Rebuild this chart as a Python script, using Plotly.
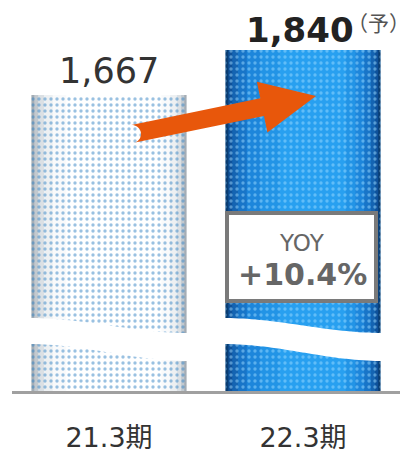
import numpy as np
import plotly.graph_objects as go

# ---- data ----
categories = ["21.3期", "22.3期"]
values = [1667, 1840]
forecast_flags = [False, True]
yoy_label = "YOY"

yoy = (values[1] / values[0] - 1) * 100

# ---- layout geometry ----
W, H = 412, 457
ML, MR, MT, MB = 12, 12, 0, 66
PW, PH = W - ML - MR, H - MT - MB
XMIN, XMAX = -0.5, 1.5
YMIN, YMAX = 529, 2032
BARW = 0.8


def dx(px):
    return XMIN + (px - ML) / PW * (XMAX - XMIN)


def dy(py):
    return YMAX - (py - MT) / PH * (YMAX - YMIN)


def path_from(points):
    s = "M " + " L ".join(f"{dx(x):.5f},{dy(y):.3f}" for x, y in points) + " Z"
    return s


xs = list(range(len(categories)))
fig = go.Figure()

# cylinder shading layers: (left inset, right inset, colour bar1, colour bar2)
layers = [
    (0.000, 0.000, "#a4adb5", "#0a3d72"),
    (0.015, 0.012, "#c2c9cf", "#0e519a"),
    (0.035, 0.028, "#dbe0e4", "#1464b2"),
    (0.065, 0.050, "#edf0f2", "#1875c8"),
    (0.110, 0.085, "#f9fafb", "#1d86db"),
    (0.180, 0.130, "#ffffff", "#2294e6"),
    (0.280, 0.180, "#ffffff", "#28a0f0"),
]
for a, b, c1, c2 in layers:
    fig.add_trace(go.Bar(
        x=xs, y=values, base=0,
        width=BARW - a - b, offset=-BARW / 2 + a,
        marker=dict(color=[c1, c2], line=dict(width=0)),
        hoverinfo="skip", showlegend=False,
    ))

# dotted texture
fig.add_trace(go.Bar(
    x=xs, y=values, base=0, width=BARW, offset=-BARW / 2,
    marker=dict(
        color="rgba(0,0,0,0)", line=dict(width=0),
        pattern=dict(shape=".", fgcolor=["#3583c4", "#9ad9ff"],
                     bgcolor="rgba(0,0,0,0)", size=6, solidity=0.25,
                     fillmode="overlay"),
    ),
    hoverinfo="skip", showlegend=False,
))

shapes = []
# wave break bands
for i in xs:
    left = ML + (i - XMIN - BARW / 2) / (XMAX - XMIN) * PW - 3
    right = left + BARW / (XMAX - XMIN) * PW + 6
    t = np.linspace(0, 1, 40)
    px = left + (right - left) * t
    up = 325.5 - 7.5 * np.cos(np.pi * t)
    lo = 352.5 - 8.5 * np.cos(np.pi * t)
    pts = list(zip(px, up)) + list(zip(px[::-1], lo[::-1]))
    shapes.append(dict(type="path", path=path_from(pts), xref="x", yref="y",
                       fillcolor="white", line=dict(width=0), layer="above"))

# arrow
T = np.array([132.0, 134.0])
P = np.array([316.0, 96.0])
d = P - T
L = np.linalg.norm(d)
u = d / L
n = np.array([-u[1], u[0]])
hw, headw, headl = 9.0, 26.0, 55.0
B = T + u * (L - headl)
pts = [T + n * hw, B + n * hw, B + n * headw, P, B - n * headw, B - n * hw, T - n * hw]
ang0 = np.arctan2(-n[1], -n[0])
for th in np.linspace(0, np.pi, 20):
    ang = ang0 + th
    pts.append(T + hw * np.array([np.cos(ang), np.sin(ang)]))
shapes.append(dict(type="path", path=path_from([tuple(p) for p in pts]), xref="x", yref="y",
                   fillcolor="#e8570b", line=dict(width=0), layer="above"))

# YOY box
shapes.append(dict(type="rect", xref="x", yref="y",
                   x0=dx(227), x1=dx(376), y0=dy(301), y1=dy(213),
                   fillcolor="white", line=dict(color="#7a7a7a", width=4), layer="above"))

annotations = []
# value labels
for i, (v, fc) in enumerate(zip(values, forecast_flags)):
    if fc:
        annotations.append(dict(x=i, y=v, xref="x", yref="y", text=f"<b>{v:,}</b>",
                                showarrow=False, yanchor="bottom", xshift=-3, yshift=-2,
                                font=dict(family="DejaVu Sans", size=34, color="#222222")))
        annotations.append(dict(x=(411 - ML) / PW, y=1 - (22 - MT) / PH,
                                xref="paper", yref="paper", text="（予）",
                                showarrow=False, xanchor="right", yanchor="middle", borderpad=0,
                                font=dict(family="Noto Sans CJK JP", size=21, color="#555555")))
    else:
        annotations.append(dict(x=i, y=v, xref="x", yref="y", text=f"{v:,}",
                                showarrow=False, yanchor="bottom", yshift=2,
                                font=dict(family="DejaVu Sans", size=35, color="#333333")))

annotations.append(dict(x=dx(302), y=dy(243), xref="x", yref="y", text=yoy_label,
                        showarrow=False, font=dict(family="DejaVu Sans", size=23, color="#666666")))
annotations.append(dict(x=dx(302), y=dy(274), xref="x", yref="y", text=f"<b>+{yoy:.1f}%</b>",
                        showarrow=False, font=dict(family="DejaVu Sans", size=30, color="#666666")))

fig.update_layout(
    width=W, height=H, margin=dict(l=ML, r=MR, t=MT, b=MB, autoexpand=False),
    paper_bgcolor="white", plot_bgcolor="white",
    barmode="overlay", bargap=0.2,
    shapes=shapes, annotations=annotations,
    xaxis=dict(range=[XMIN, XMAX], tickvals=xs, ticktext=categories, automargin=False,
               showgrid=False, zeroline=False, showline=True, linecolor="#a0a0a0",
               linewidth=3, ticks="", ticklabelstandoff=21,
               tickfont=dict(family="DejaVu Sans, Noto Sans CJK JP", size=27, color="#333333"),
               fixedrange=True),
    yaxis=dict(range=[YMIN, YMAX], visible=False, showgrid=False, zeroline=False,
               automargin=False, fixedrange=True),
    showlegend=False,
)

fig.write_html("out.html", config={"displayModeBar": False},
               post_script="document.body.style.margin='0px';document.body.style.overflow='hidden';")
